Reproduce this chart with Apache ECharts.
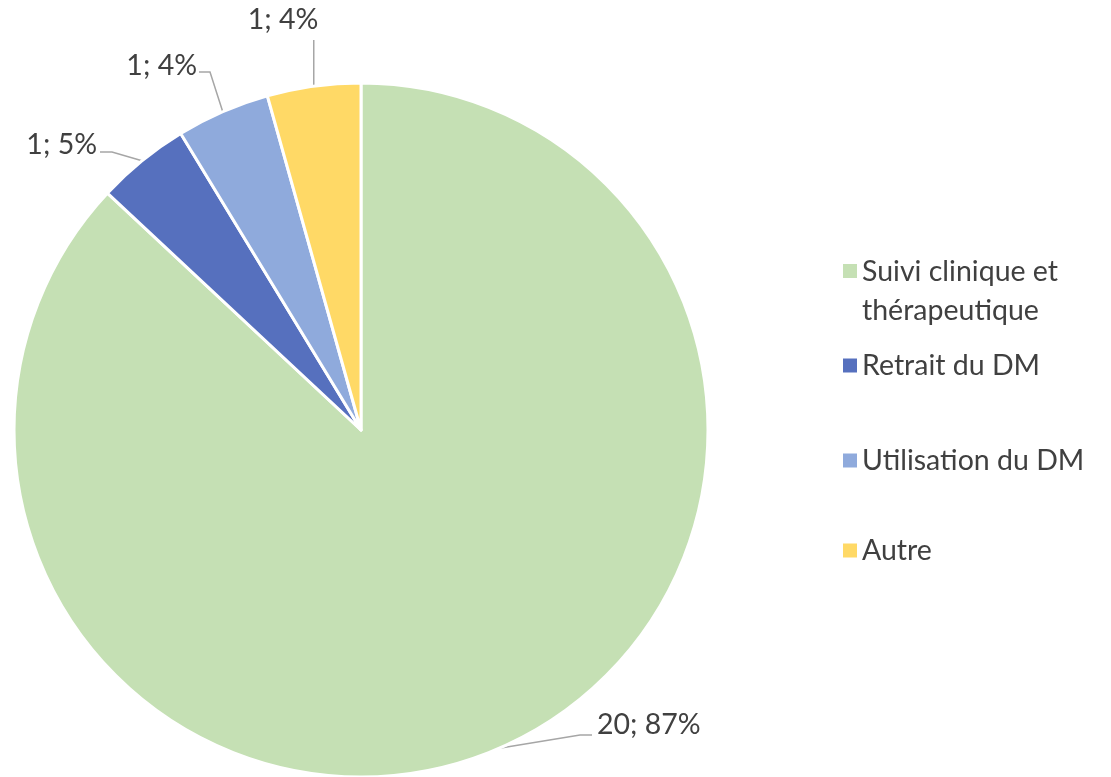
<!DOCTYPE html>
<html lang="fr">
<head>
    <meta charset="UTF-8">
    <title>Répartition</title>
    <style>
        html, body { margin: 0; padding: 0; background: #fff; }
        #chart { width: 1111px; height: 777px; }
    </style>
</head>
<body>
    <div id="chart"></div>
    <script src="https://cdn.jsdelivr.net/npm/echarts@6/dist/echarts.min.js"></script>
    <script type="text/javascript">
        // données
        var categories = ['Suivi clinique et\nthérapeutique', 'Retrait du DM', 'Utilisation du DM', 'Autre'];
        var values = [20, 1, 1, 1];
        var percentLabels = ['87%', '5%', '4%', '4%'];
        var colors = ['#C5E0B4', '#5670BE', '#8FAADC', '#FFD966'];

        var pieData = [];
        for (var i = 0; i < categories.length; i++) {
            pieData.push({
                name: categories[i],
                value: values[i],
                itemStyle: { color: colors[i] }
            });
        }

        var textColor = '#404040';
        var fontFamily = 'Lato, "Noto Sans", sans-serif';
        var fontSize = 28.5;

        // une légende par entrée pour reproduire l'espacement d'Excel
        var legendTops = [247, 341, 436, 526];
        var legends = categories.map(function (name, idx) {
            var twoLines = name.indexOf('\n') >= 0;
            return {
                orient: 'vertical',
                left: 838,
                top: legendTops[idx],
                itemWidth: 14,
                itemHeight: twoLines ? 54 : 14,
                icon: twoLines ? 'path://M0 0H14V14H0ZM0 54H14' : 'rect',
                itemStyle: { borderWidth: 0 },
                data: [name],
                textStyle: {
                    fontSize: fontSize,
                    color: textColor,
                    fontFamily: fontFamily,
                    lineHeight: 39,
                    padding: [0, 0, 0, 0]
                }
            };
        });

        // placement des étiquettes façon Excel
        var labelSpots = [
            { x: 597, y: 725, align: 'left', bend: [580, 735], end: [592, 735] },
            { x: 97, y: 145, align: 'right', bend: [112, 152], end: [100, 152] },
            { x: 197, y: 66, align: 'right', bend: [210, 72], end: [199, 72] },
            { x: 283, y: 20, align: 'center', bend: null, end: null }
        ];

        var myChart = echarts.init(document.getElementById('chart'));
        myChart.setOption({
            animation: false,
            legend: legends,
            series: [
                {
                    type: 'pie',
                    center: [361, 430],
                    radius: 347,
                    startAngle: 90,
                    clockwise: true,
                    data: pieData,
                    itemStyle: {
                        borderColor: '#fff',
                        borderWidth: 3
                    },
                    label: {
                        show: true,
                        position: 'outside',
                        fontSize: fontSize,
                        color: textColor,
                        fontFamily: fontFamily,
                        formatter: function (p) {
                            return p.value + '; ' + percentLabels[p.dataIndex];
                        }
                    },
                    labelLine: {
                        show: true,
                        length: 25,
                        length2: 20,
                        lineStyle: { color: '#A6A6A6', width: 1.5 }
                    },
                    labelLayout: function (params) {
                        var s = labelSpots[params.dataIndex];
                        var out = {
                            x: s.x,
                            y: s.y,
                            align: s.align,
                            verticalAlign: 'middle'
                        };
                        var pts = params.labelLinePoints;
                        if (pts && pts.length) {
                            var start = pts[0];
                            if (s.bend) {
                                out.labelLinePoints = [start, s.bend, s.end];
                            } else {
                                out.labelLinePoints = [start, [start[0], 50], [start[0], 40]];
                            }
                        }
                        return out;
                    }
                }
            ]
        });
    </script>
</body>
</html>
